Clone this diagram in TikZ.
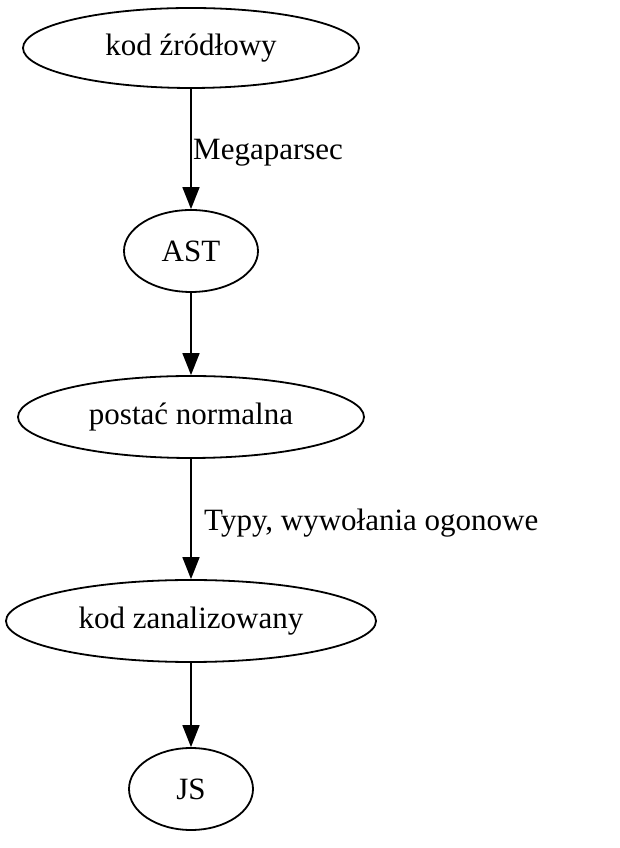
\documentclass[tikz,border=0pt]{standalone}
\usepackage{fontspec}
\setmainfont{Liberation Serif}
\usetikzlibrary{shapes.geometric,arrows.meta}
\begin{document}
\begin{tikzpicture}[x=1pt,y=1pt,
  every node/.style={font=\fontsize{31}{36}\selectfont},
  ell/.style={ellipse,draw,line width=1.8pt,inner sep=0pt},
  edgearrow/.style={line width=1.8pt,-{Triangle[length=22pt,width=17pt]}},
  lbl/.style={anchor=west,inner sep=0pt}]
\useasboundingbox (0,0) rectangle (620,848);
\node[ell,minimum width=336pt,minimum height=80pt] (src) at (191,800) {kod źródłowy};
\node[ell,minimum width=134pt,minimum height=82pt] (ast) at (191,597) {AST};
\node[ell,minimum width=346pt,minimum height=82pt] (norm) at (191,431) {postać normalna};
\node[ell,minimum width=370pt,minimum height=82pt] (anal) at (191,227) {kod zanalizowany};
\node[ell,minimum width=124pt,minimum height=82pt] (js) at (191,59) {JS};
\draw[edgearrow] (src.south) -- (ast.north);
\draw[edgearrow] (ast.south) -- (norm.north);
\draw[edgearrow] (norm.south) -- (anal.north);
\draw[edgearrow] (anal.south) -- (js.north);
\node[lbl] (l1) at (193,695) {Megaparsec};
\node[lbl] (l2) at (204,325) {Typy, wywołania ogonowe};
\end{tikzpicture}
\end{document}
